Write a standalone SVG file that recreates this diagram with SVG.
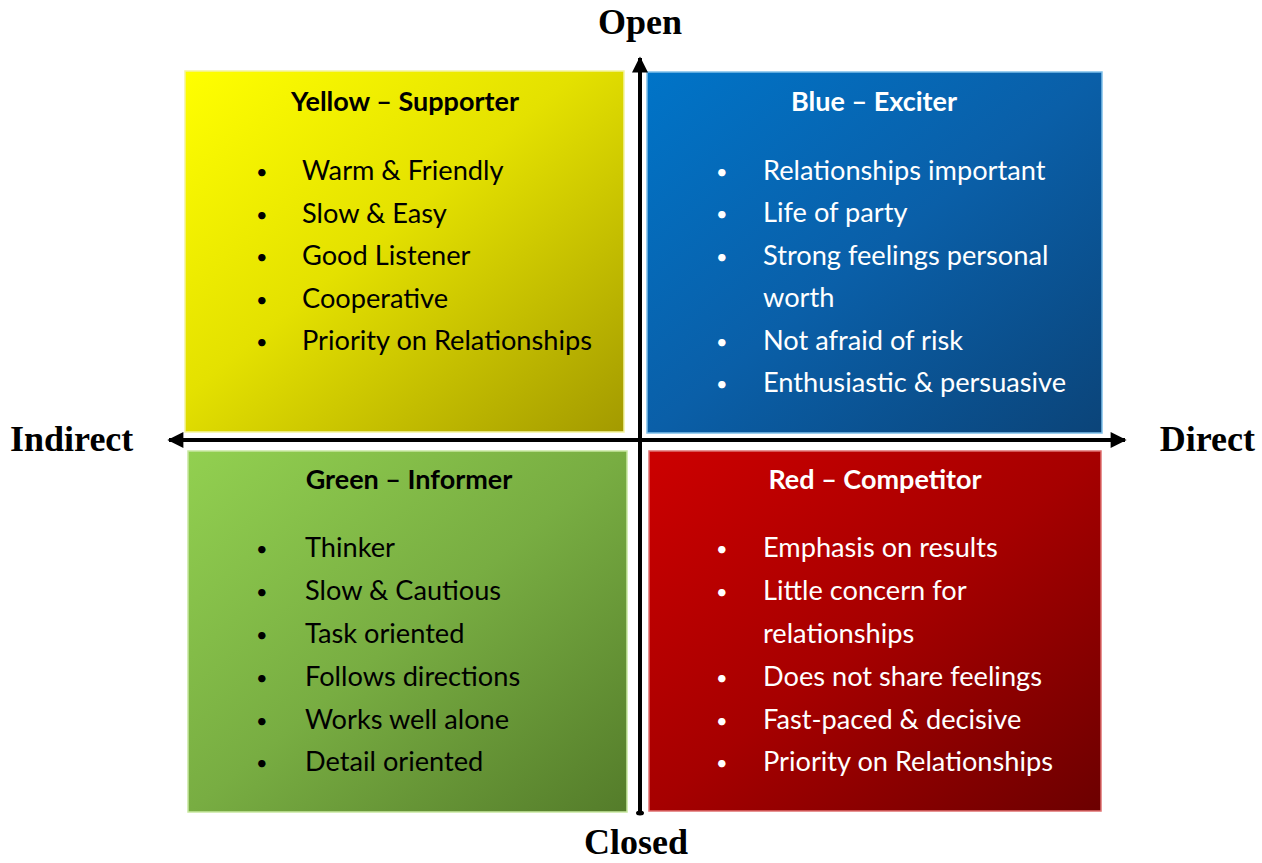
<svg xmlns="http://www.w3.org/2000/svg" width="1262" height="863" viewBox="0 0 1262 863">
  <defs>
    <linearGradient id="gYellow" x1="0" y1="0" x2="1" y2="1">
      <stop offset="0" stop-color="#ffff00"/>
      <stop offset="0.45" stop-color="#e4e100"/>
      <stop offset="1" stop-color="#a39a00"/>
    </linearGradient>
    <linearGradient id="gBlue" x1="0" y1="0" x2="1" y2="1">
      <stop offset="0" stop-color="#0074c8"/>
      <stop offset="0.5" stop-color="#0a5fa8"/>
      <stop offset="1" stop-color="#0b4479"/>
    </linearGradient>
    <linearGradient id="gGreen" x1="0" y1="0" x2="1" y2="1">
      <stop offset="0" stop-color="#92d050"/>
      <stop offset="0.5" stop-color="#78ad42"/>
      <stop offset="1" stop-color="#547c2a"/>
    </linearGradient>
    <linearGradient id="gRed" x1="0" y1="0" x2="1" y2="1">
      <stop offset="0" stop-color="#cc0000"/>
      <stop offset="0.5" stop-color="#a60000"/>
      <stop offset="1" stop-color="#6c0000"/>
    </linearGradient>
    <marker id="arrow" viewBox="0 0 10 10" refX="9" refY="5" markerWidth="4.2" markerHeight="4" orient="auto-start-reverse" markerUnits="strokeWidth">
      <path d="M0,0 L10,5 L0,10 Z" fill="#000"/>
    </marker>
    <style>
      .quad { stroke-width: 1.5; }
      .title { font-family: "Lato", "Liberation Sans", sans-serif; font-weight: bold; font-size: 27px; text-anchor: middle; }
      .item { font-family: "Lato", "Liberation Sans", sans-serif; font-size: 27.2px; }
      .bullet { font-size: 20px; }
      .dark { fill: #000; }
      .light { fill: #fff; }
      .axis-label { font-family: "Liberation Serif", "Times New Roman", serif; font-weight: bold; font-size: 36px; fill: #000; }
      .axis { stroke: #000; stroke-width: 4; fill: none; }
    </style>
  </defs>

  <rect width="1262" height="863" fill="#ffffff"/>

  <!-- Yellow quadrant -->
  <g id="yellow-supporter">
    <rect class="quad" x="185" y="71" width="439" height="361" fill="url(#gYellow)" stroke="#f4f4a0"/>
    <text class="title dark" x="405" y="111">Yellow – Supporter</text>
    <g class="item dark">
      <text class="bullet" x="256" y="179">•</text><text x="302" y="180">Warm &amp; Friendly</text>
      <text class="bullet" x="256" y="222">•</text><text x="302" y="223">Slow &amp; Easy</text>
      <text class="bullet" x="256" y="264">•</text><text x="302" y="265">Good Listener</text>
      <text class="bullet" x="256" y="307">•</text><text x="302" y="308">Cooperative</text>
      <text class="bullet" x="256" y="349">•</text><text x="302" y="350">Priority on Relationships</text>
    </g>
  </g>

  <!-- Blue quadrant -->
  <g id="blue-exciter">
    <rect class="quad" x="647" y="72" width="455" height="361" fill="url(#gBlue)" stroke="#7fc0ea"/>
    <text class="title light" x="874" y="111">Blue – Exciter</text>
    <g class="item light">
      <text class="bullet" x="716" y="179">•</text><text x="763" y="180">Relationships important</text>
      <text class="bullet" x="716" y="221">•</text><text x="763" y="222">Life of party</text>
      <text class="bullet" x="716" y="264">•</text><text x="763" y="265">Strong feelings personal</text>
      <text x="763" y="307">worth</text>
      <text class="bullet" x="716" y="349">•</text><text x="763" y="350">Not afraid of risk</text>
      <text class="bullet" x="716" y="391">•</text><text x="763" y="392">Enthusiastic &amp; persuasive</text>
    </g>
  </g>

  <!-- Green quadrant -->
  <g id="green-informer">
    <rect class="quad" x="188" y="451" width="439" height="361" fill="url(#gGreen)" stroke="#c8e8a0"/>
    <text class="title dark" x="409" y="489">Green – Informer</text>
    <g class="item dark">
      <text class="bullet" x="256" y="556">•</text><text x="305" y="557">Thinker</text>
      <text class="bullet" x="256" y="599">•</text><text x="305" y="600">Slow &amp; Cautious</text>
      <text class="bullet" x="256" y="642">•</text><text x="305" y="643">Task oriented</text>
      <text class="bullet" x="256" y="685">•</text><text x="305" y="686">Follows directions</text>
      <text class="bullet" x="256" y="728">•</text><text x="305" y="729">Works well alone</text>
      <text class="bullet" x="256" y="770">•</text><text x="305" y="771">Detail oriented</text>
    </g>
  </g>

  <!-- Red quadrant -->
  <g id="red-competitor">
    <rect class="quad" x="649" y="451" width="452" height="360" fill="url(#gRed)" stroke="#e07070"/>
    <text class="title light" x="875" y="489">Red – Competitor</text>
    <g class="item light">
      <text class="bullet" x="716" y="556">•</text><text x="763" y="557">Emphasis on results</text>
      <text class="bullet" x="716" y="599">•</text><text x="763" y="600">Little concern for</text>
      <text x="763" y="643">relationships</text>
      <text class="bullet" x="716" y="685">•</text><text x="763" y="686">Does not share feelings</text>
      <text class="bullet" x="716" y="728">•</text><text x="763" y="729">Fast-paced &amp; decisive</text>
      <text class="bullet" x="716" y="770">•</text><text x="763" y="771">Priority on Relationships</text>
    </g>
  </g>

  <!-- Axes -->
  <g id="connectors">
    <line class="axis" x1="640" y1="812" x2="640" y2="58" marker-end="url(#arrow)"/>
    <line class="axis" x1="169" y1="440" x2="1125" y2="440" marker-start="url(#arrow)" marker-end="url(#arrow)"/>
    <ellipse cx="640" cy="813" rx="4" ry="2.5" fill="#000"/>
  </g>

  <!-- Axis labels -->
  <g id="axis-labels">
    <text class="axis-label" x="640" y="34" text-anchor="middle">Open</text>
    <text class="axis-label" x="636" y="854" text-anchor="middle">Closed</text>
    <text class="axis-label" x="10" y="451">Indirect</text>
    <text class="axis-label" x="1255" y="451" text-anchor="end">Direct</text>
  </g>
</svg>
